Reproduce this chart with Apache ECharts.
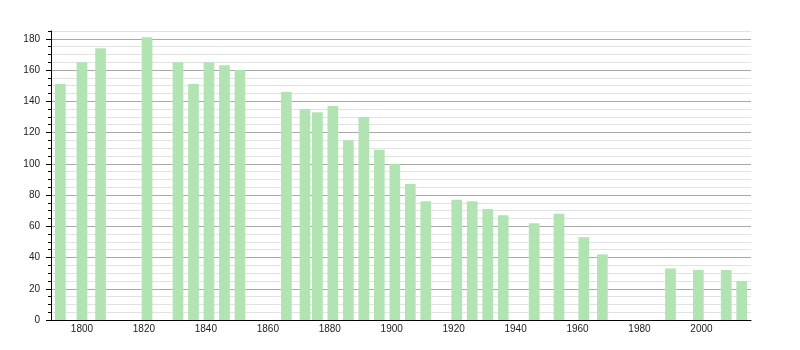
<!DOCTYPE html>
<html>
<head>
<meta charset="utf-8">
<script src="https://cdn.jsdelivr.net/npm/echarts@6/dist/echarts.min.js"></script>
<style>html,body{margin:0;padding:0;background:#fff}#c{width:800px;height:350px}</style>
</head>
<body>
<div id="c"></div>
<script>
const years = [1793, 1800, 1806, 1821, 1831, 1836, 1841, 1846, 1851, 1866, 1872, 1876, 1881, 1886, 1891, 1896, 1901, 1906, 1911, 1921, 1926, 1931, 1936, 1946, 1954, 1962, 1968, 1990, 1999, 2008, 2013];
const population = [151, 165, 174, 181, 165, 151, 165, 163, 160, 146, 135, 133, 137, 115, 130, 109, 100, 87, 76, 77, 76, 71, 67, 62, 68, 53, 42, 33, 32, 32, 25];
const yMajorStep = 20;
const yMinorStep = 5;

const font = "'Liberation Sans', Arial, sans-serif";
const chart = echarts.init(document.getElementById('c'), null, {renderer: 'canvas'});
chart.setOption({
  animation: false,
  backgroundColor: '#ffffff',
  grid: {left: 51, right: 49, top: 31, bottom: 30, containLabel: false},
  xAxis: {
    type: 'value', min: 1790, max: 2016, splitNumber: 10,
    axisLine: {show: true, lineStyle: {color: '#000', width: 1}},
    axisTick: {show: false},
    splitLine: {show: false},
    axisLabel: {color: '#222', fontSize: 10, fontFamily: font, margin: 4, showMinLabel: false, showMaxLabel: false,
      formatter: v => String(v)}
  },
  yAxis: [
    {
      type: 'value', min: 0, max: 185, interval: yMinorStep, position: 'left',
      axisLine: {show: false},
      axisTick: {show: true, length: 3, lineStyle: {color: '#000'}},
      axisLabel: {show: false},
      splitLine: {show: true, lineStyle: {color: '#e2e2e2', width: 1}}
    },
    {
      type: 'value', min: 0, max: 185, interval: yMajorStep, position: 'left',
      axisLine: {show: true, lineStyle: {color: '#000', width: 1}},
      axisTick: {show: true, length: 5, lineStyle: {color: '#000'}},
      axisLabel: {color: '#222', fontSize: 10, fontFamily: font, margin: 11, showMaxLabel: false},
      splitLine: {show: true, showMaxLine: false, lineStyle: {color: '#a9a9a9', width: 1}}
    }
  ],
  series: [{
    type: 'bar', yAxisIndex: 1, barWidth: 10.7,
    itemStyle: {color: '#b2e3b2'},
    data: years.map((y, i) => [y, population[i]])
  }]
});
</script>
</body>
</html>
